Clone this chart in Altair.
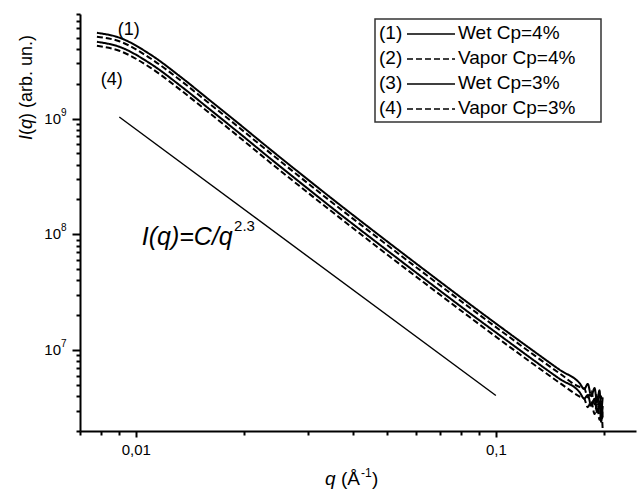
import altair as alt
import pandas as pd

# ---- data ----
q = [0.0078, 0.009, 0.011, 0.0133, 0.016, 0.0195, 0.0236, 0.0285, 0.0346, 0.0476,
     0.0656, 0.0847, 0.1026, 0.124, 0.151, 0.171, 0.176, 0.18, 0.184, 0.188,
     0.191, 0.194, 0.196, 0.198]
wet4 = [5.5e9, 5.0e9, 3.56e9, 2.3e9, 1.45e9, 8.83e8, 5.43e8, 3.39e8, 2.10e8, 9.72e7,
        4.54e7, 2.49e7, 1.60e7, 1.04e7, 6.7e6, 5.16e6, 4.6e6, 5.1e6, 4.0e6, 4.7e6,
        3.5e6, 4.5e6, 3.0e6, 3.9e6]
vap4 = [5.1e9, 4.65e9, 3.3e9, 2.14e9, 1.35e9, 8.21e8, 5.05e8, 3.15e8, 1.95e8, 9.04e7,
        4.22e7, 2.32e7, 1.49e7, 9.67e6, 6.23e6, 4.8e6, 4.7e6, 3.9e6, 4.4e6, 3.4e6,
        4.2e6, 3.0e6, 4.0e6, 2.6e6]
wet3 = [4.6e9, 4.17e9, 2.97e9, 1.92e9, 1.21e9, 7.37e8, 4.53e8, 2.83e8, 1.75e8, 8.12e7,
        3.79e7, 2.08e7, 1.34e7, 8.68e6, 5.59e6, 4.31e6, 3.8e6, 4.1e6, 3.3e6, 3.8e6,
        2.9e6, 3.6e6, 2.4e6, 3.3e6]
vap3 = [4.25e9, 3.85e9, 2.74e9, 1.77e9, 1.12e9, 6.8e8, 4.18e8, 2.61e8, 1.62e8, 7.48e7,
        3.5e7, 1.92e7, 1.23e7, 8.0e6, 5.16e6, 3.97e6, 3.8e6, 3.2e6, 3.6e6, 2.8e6,
        3.4e6, 2.5e6, 3.1e6, 2.05e6]
series_ids = ["(1)", "(2)", "(3)", "(4)"]
series_names = ["Wet Cp=4%", "Vapor Cp=4%", "Wet Cp=3%", "Vapor Cp=3%"]
series_dash = [[1, 0], [6, 3], [1, 0], [6, 3]]

# power-law guide line I(q) = C/q^2.3
guide_q = [0.009, 0.1]
guide_I = [1.03e9, 4.05e6]

# curve number labels
lab_text = ["(1)", "(4)"]
lab_q = [0.00956, 0.00858]
lab_I = [5.85e9, 2.16e9]

# equation annotation
eq_text = ["I(q)=C/q"]
eq_q = [0.01039]
eq_I = [8.07e7]
sup_text = ["2.3"]
sup_q = [0.01875]
sup_I = [1.07e8]

x_ticks = [0.007, 0.008, 0.009, 0.01, 0.02, 0.03, 0.04, 0.05, 0.06, 0.07, 0.08, 0.09, 0.1, 0.2]
y_ticks = [m * 10 ** e for e in (6, 7, 8, 9) for m in range(1, 10)
           if 2e6 <= m * 10 ** e <= 8e9]
y_major = [1e7, 1e8, 1e9]
y_exp = ["7", "8", "9"]

FONT = "Liberation Sans"

rows = []
for sid, vals in zip(series_ids, [wet4, vap4, wet3, vap3]):
    for qq, v in zip(q, vals):
        rows.append({"q": qq, "I": v, "s": sid})
df = pd.DataFrame(rows)

xscale = alt.Scale(type="log", domain=[0.007, 0.245], nice=False)
yscale = alt.Scale(type="log", domain=[2e6, 8e9], nice=False)

major = "abs(log(datum.value)/LN10 - round(log(datum.value)/LN10)) < 1e-6"

xaxis = alt.Axis(
    values=x_ticks, grid=False, domainColor="black", domainWidth=2,
    tickColor="black", tickWidth=2,
    tickSize={"condition": {"test": major, "value": 6}, "value": 4},
    labelExpr="abs(datum.value-0.01)<1e-9 ? '0,01' : (abs(datum.value-0.1)<1e-9 ? '0,1' : '')",
    labelFont=FONT, labelFontSize=15, labelColor="black", labelPadding=5,
    labelFlush=False, labelOverlap=False, title=None,
)
yaxis = alt.Axis(
    values=y_ticks, grid=False, domainColor="black", domainWidth=2,
    tickColor="black", tickWidth=2,
    tickSize={"condition": {"test": major, "value": 8}, "value": 4},
    labels=False, title=None,
)

curves = alt.Chart(df).mark_line(strokeWidth=2, color="black", interpolate="monotone").encode(
    x=alt.X("q:Q", scale=xscale, axis=xaxis),
    y=alt.Y("I:Q", scale=yscale, axis=yaxis),
    detail="s:N",
    strokeDash=alt.StrokeDash("s:N", scale=alt.Scale(domain=series_ids, range=series_dash), legend=None),
)

guide = alt.Chart(pd.DataFrame({"q": guide_q, "I": guide_I})).mark_line(
    strokeWidth=1.4, color="black").encode(
    x=alt.X("q:Q", scale=xscale), y=alt.Y("I:Q", scale=yscale))

labels = alt.Chart(pd.DataFrame({"q": lab_q, "I": lab_I, "t": lab_text})).mark_text(
    font=FONT, fontSize=18, align="center", baseline="middle", color="black").encode(
    x=alt.X("q:Q", scale=xscale), y=alt.Y("I:Q", scale=yscale), text="t:N")

eq = alt.Chart(pd.DataFrame({"q": eq_q, "I": eq_I, "t": eq_text})).mark_text(
    font=FONT, fontSize=25, fontStyle="italic", align="left", baseline="alphabetic",
    color="black").encode(
    x=alt.X("q:Q", scale=xscale), y=alt.Y("I:Q", scale=yscale), text="t:N")

sup = alt.Chart(pd.DataFrame({"q": sup_q, "I": sup_I, "t": sup_text})).mark_text(
    font=FONT, fontSize=15, align="left", baseline="alphabetic", color="black").encode(
    x=alt.X("q:Q", scale=xscale), y=alt.Y("I:Q", scale=yscale), text="t:N")

# y tick labels 10^n with a real superscript
ylab_df = pd.DataFrame({"I": y_major, "e": y_exp})
ylab_base = alt.Chart(ylab_df).mark_text(
    text="10", font=FONT, fontSize=15, align="right", baseline="middle", color="black").encode(
    x=alt.value(-19), y=alt.Y("I:Q", scale=yscale))
ylab_exp = alt.Chart(ylab_df).mark_text(
    font=FONT, fontSize=10, align="left", baseline="middle", dy=-6, color="black").encode(
    x=alt.value(-19), y=alt.Y("I:Q", scale=yscale), text="e:N")

# axis titles with italic symbols
one = pd.DataFrame({"a": [0]})
def txt(s, x, y, size, italic=False, angle=0, dy=0):
    kw = dict(text=s, font=FONT, fontSize=size, align="left", baseline="alphabetic",
              color="black", angle=angle, dy=dy)
    if italic:
        kw["fontStyle"] = "italic"
    return alt.Chart(one).mark_text(**kw).encode(x=alt.value(x), y=alt.value(y))

title_layers = [
    txt("q", 245, 471, 19, italic=True),
    txt("(Å", 261, 471, 19),
    txt("-1", 281, 463, 12),
    txt(")", 292, 471, 19),
    # y title, rotated, reading bottom to top
    txt("I", -48, 126, 18, italic=True, angle=270),
    txt("(", -48, 121, 18, angle=270),
    txt("q", -48, 115, 18, italic=True, angle=270),
    txt(") (arb. un.)", -48, 105, 18, angle=270),
]

# ---- legend box (drawn by hand to reproduce the "(n) —— name" layout) ----
box = alt.Chart(one).mark_rect(
    fill="white", stroke="#333333", strokeWidth=1.5).encode(
    x=alt.value(295), x2=alt.value(521), y=alt.value(5), y2=alt.value(108))

legend_layers = [box]
row_y = [19, 44, 69, 94]
for sid, name, dash, yy in zip(series_ids, series_names, series_dash, row_y):
    legend_layers.append(alt.Chart(one).mark_text(
        text=sid, font=FONT, fontSize=19, align="left", baseline="middle", color="black").encode(
        x=alt.value(299), y=alt.value(yy)))
    legend_layers.append(alt.Chart(one).mark_rule(
        color="black", strokeWidth=1.5, strokeDash=dash).encode(
        x=alt.value(327), x2=alt.value(375), y=alt.value(yy + 1)))
    legend_layers.append(alt.Chart(one).mark_text(
        text=name, font=FONT, fontSize=19, align="left", baseline="middle", color="black").encode(
        x=alt.value(378), y=alt.value(yy)))

chart = alt.layer(curves, guide, labels, eq, sup, ylab_base, ylab_exp,
                  *title_layers, *legend_layers).properties(
    width=556, height=417,
    autosize=alt.AutoSizeParams(type="none"),
    padding={"left": 80, "top": 14, "right": 1, "bottom": 69},
    background="white",
).configure_view(stroke=None)

chart.save("out.html", embed_options={"renderer": "svg", "actions": False})
